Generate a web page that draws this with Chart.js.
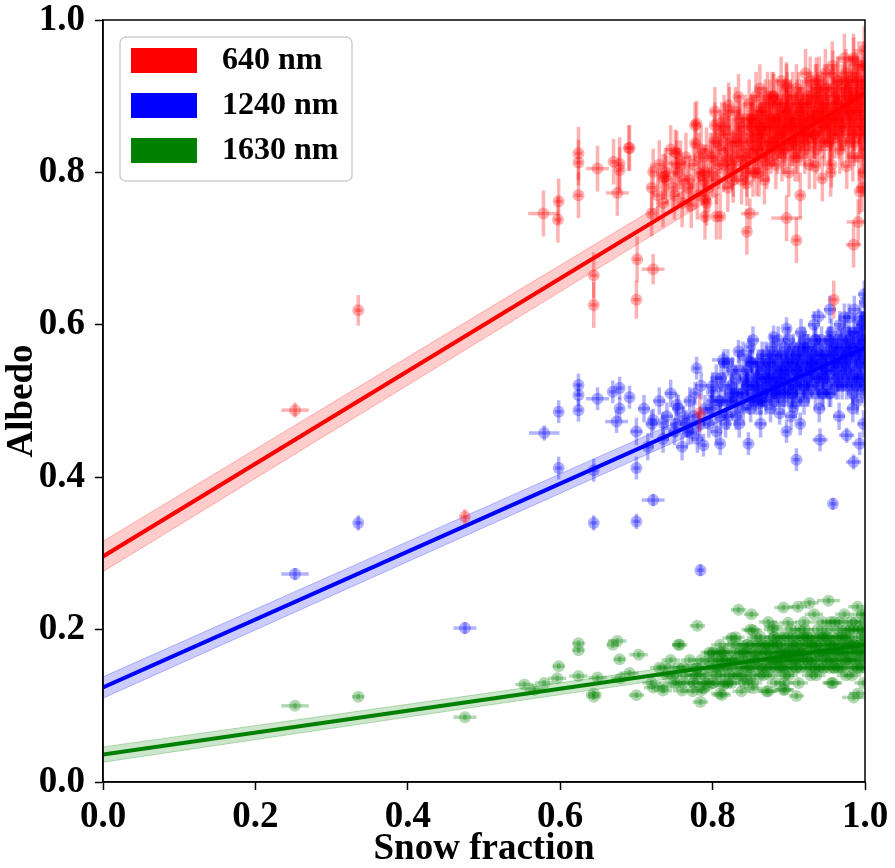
<!DOCTYPE html>
<html>
<head>
<meta charset="utf-8">
<script src="https://cdn.jsdelivr.net/npm/chart.js@4.4.1/dist/chart.umd.min.js"></script>
<style>
  html, body { margin: 0; padding: 0; background: #fff; }
  #wrap { width: 895px; height: 868px; }
</style>
</head>
<body>
<div id="wrap"><canvas id="albedoChart"></canvas></div>
<script>
// Series labels and colours
const seriesLabels = ['640 nm', '1240 nm', '1630 nm'];
const seriesColors = ['255, 0, 0', '0, 0, 255', '0, 128, 0'];

// Axis ticks
const tickValues = [0.0, 0.2, 0.4, 0.6, 0.8, 1.0];

// Regression fits and confidence bands, sampled at fitX
const fitX = [0, 0.5, 1];
const red640Fit = [0.296, 0.600, 0.904];
const red640Lo = [0.276, 0.582, 0.889];
const red640Hi = [0.316, 0.618, 0.919];
const blue1240Fit = [0.124, 0.347, 0.570];
const blue1240Lo = [0.110, 0.334, 0.558];
const blue1240Hi = [0.138, 0.360, 0.582];
const green1630Fit = [0.036, 0.108, 0.180];
const green1630Lo = [0.026, 0.100, 0.173];
const green1630Hi = [0.046, 0.116, 0.187];

// Scattered points: [snow fraction, albedo, x error, y error]
const red640Points = [
    [0.252, 0.488, 0.018, 0.010], [0.335, 0.619, 0.005, 0.020], [0.475, 0.348, 0.005, 0.010],
    [0.578, 0.746, 0.020, 0.030], [0.597, 0.738, 0.005, 0.030], [0.598, 0.762, 0.005, 0.030],
    [0.624, 0.825, 0.005, 0.035], [0.624, 0.813, 0.005, 0.030], [0.624, 0.770, 0.005, 0.030],
    [0.649, 0.805, 0.015, 0.030], [0.670, 0.814, 0.005, 0.030], [0.678, 0.811, 0.005, 0.035],
    [0.678, 0.803, 0.005, 0.030], [0.691, 0.832, 0.005, 0.030], [0.675, 0.773, 0.015, 0.030],
    [0.722, 0.801, 0.005, 0.030], [0.735, 0.794, 0.005, 0.030], [0.751, 0.826, 0.005, 0.030],
    [0.753, 0.812, 0.012, 0.030], [0.762, 0.790, 0.005, 0.030], [0.720, 0.746, 0.005, 0.030],
    [0.772, 0.757, 0.005, 0.030], [0.790, 0.764, 0.005, 0.030], [0.790, 0.742, 0.005, 0.030],
    [0.805, 0.742, 0.005, 0.030], [0.777, 0.862, 0.005, 0.030], [0.777, 0.838, 0.005, 0.030],
    [0.803, 0.862, 0.005, 0.030], [0.792, 0.829, 0.005, 0.030], [0.783, 0.799, 0.005, 0.030],
    [0.644, 0.665, 0.005, 0.030], [0.644, 0.626, 0.005, 0.030], [0.701, 0.686, 0.005, 0.030],
    [0.722, 0.673, 0.015, 0.020], [0.700, 0.633, 0.005, 0.025], [0.845, 0.722, 0.005, 0.030],
    [0.849, 0.746, 0.012, 0.020], [0.897, 0.740, 0.020, 0.030], [0.910, 0.711, 0.005, 0.030],
    [0.915, 0.770, 0.005, 0.030], [0.985, 0.705, 0.010, 0.030], [0.991, 0.735, 0.015, 0.030],
    [0.993, 0.775, 0.005, 0.030], [0.944, 0.792, 0.005, 0.030], [0.956, 0.810, 0.005, 0.030],
    [0.976, 0.808, 0.005, 0.030], [0.934, 0.808, 0.005, 0.030], [0.834, 0.899, 0.005, 0.030],
    [0.821, 0.888, 0.005, 0.030], [0.897, 0.912, 0.005, 0.030], [0.783, 0.484, 0.005, 0.025],
    [0.959, 0.633, 0.005, 0.025], [0.779, 0.864, 0.005, 0.030], [0.753, 0.825, 0.005, 0.030],
    [0.788, 0.797, 0.005, 0.030], [0.738, 0.795, 0.005, 0.030], [0.690, 0.832, 0.005, 0.030],
    [0.810, 0.742, 0.005, 0.030], [0.792, 0.760, 0.005, 0.030], [0.827, 0.790, 0.005, 0.030],
    [0.845, 0.786, 0.005, 0.030], [0.858, 0.799, 0.005, 0.030], [0.818, 0.816, 0.005, 0.030],
    [0.836, 0.829, 0.005, 0.030], [0.853, 0.869, 0.005, 0.030], [0.862, 0.860, 0.005, 0.030],
    [0.880, 0.899, 0.005, 0.030], [0.897, 0.915, 0.005, 0.030], [0.936, 0.921, 0.005, 0.030],
    [0.958, 0.930, 0.005, 0.030], [0.985, 0.947, 0.005, 0.030]
];
const red640Cluster = [
    [0.800, 0.800], [0.810, 0.830], [0.815, 0.870], [0.820, 0.850], [0.825, 0.810], [0.830, 0.880],
    [0.832, 0.840], [0.838, 0.790], [0.840, 0.860], [0.845, 0.820], [0.848, 0.890], [0.850, 0.840],
    [0.853, 0.800], [0.856, 0.870], [0.860, 0.830], [0.862, 0.910], [0.865, 0.850], [0.868, 0.790],
    [0.870, 0.880], [0.873, 0.820], [0.875, 0.860], [0.878, 0.900], [0.880, 0.840], [0.883, 0.810],
    [0.885, 0.870], [0.888, 0.850], [0.890, 0.920], [0.892, 0.830], [0.895, 0.880], [0.897, 0.860],
    [0.900, 0.800], [0.902, 0.890], [0.905, 0.840], [0.907, 0.870], [0.910, 0.910], [0.912, 0.820],
    [0.915, 0.860], [0.917, 0.890], [0.920, 0.840], [0.922, 0.930], [0.925, 0.870], [0.927, 0.810],
    [0.930, 0.900], [0.932, 0.850], [0.935, 0.880], [0.937, 0.830], [0.940, 0.920], [0.942, 0.860],
    [0.945, 0.890], [0.947, 0.840], [0.950, 0.910], [0.952, 0.870], [0.955, 0.800], [0.957, 0.940],
    [0.960, 0.850], [0.962, 0.890], [0.965, 0.920], [0.967, 0.830], [0.970, 0.880], [0.972, 0.860],
    [0.975, 0.930], [0.977, 0.900], [0.980, 0.840], [0.982, 0.880], [0.985, 0.950], [0.987, 0.860],
    [0.990, 0.910], [0.992, 0.820], [0.995, 0.890], [0.997, 0.940], [1.000, 0.870], [1.000, 0.920],
    [0.998, 0.800], [0.993, 0.850], [0.988, 0.930], [0.983, 0.900], [0.978, 0.870], [0.973, 0.950],
    [0.968, 0.900], [0.963, 0.870], [0.958, 0.910], [0.953, 0.840], [0.948, 0.930], [0.943, 0.880],
    [0.938, 0.900], [0.933, 0.870], [0.928, 0.920], [0.923, 0.850], [0.918, 0.880], [0.913, 0.900],
    [0.908, 0.850], [0.903, 0.870], [0.898, 0.900], [0.893, 0.860], [0.887, 0.890], [0.882, 0.870],
    [0.877, 0.830], [0.872, 0.900], [0.867, 0.870], [0.862, 0.860], [0.857, 0.900], [0.852, 0.860],
    [0.847, 0.850], [0.842, 0.810], [0.836, 0.860], [0.828, 0.840], [0.822, 0.880], [0.818, 0.820],
    [0.812, 0.860], [0.806, 0.840], [0.803, 0.880], [0.999, 0.960], [0.996, 0.780], [0.994, 0.900],
    [0.989, 0.880], [0.984, 0.820], [0.979, 0.920]
];
const red640Core = [
    [0.720, 0.780], [0.730, 0.810], [0.735, 0.760], [0.740, 0.790], [0.745, 0.830], [0.750, 0.770],
    [0.755, 0.800], [0.760, 0.760], [0.765, 0.820], [0.770, 0.790], [0.775, 0.810], [0.780, 0.770],
    [0.785, 0.830], [0.790, 0.800], [0.795, 0.780], [0.800, 0.820], [0.805, 0.790], [0.810, 0.850],
    [0.815, 0.810], [0.820, 0.780], [0.825, 0.840], [0.830, 0.820], [0.835, 0.870], [0.840, 0.840],
    [0.845, 0.800], [0.850, 0.870], [0.855, 0.830], [0.860, 0.880], [0.865, 0.820], [0.870, 0.850],
    [0.875, 0.890], [0.880, 0.860], [0.885, 0.830], [0.890, 0.870], [0.895, 0.840], [0.900, 0.880],
    [0.905, 0.860], [0.910, 0.830], [0.915, 0.880], [0.920, 0.860], [0.925, 0.900], [0.930, 0.840],
    [0.935, 0.870], [0.940, 0.890], [0.945, 0.850], [0.950, 0.880], [0.955, 0.860], [0.960, 0.900],
    [0.965, 0.870], [0.970, 0.840], [0.975, 0.890], [0.980, 0.910], [0.985, 0.870], [0.990, 0.890],
    [0.995, 0.850], [1.000, 0.900], [1.000, 0.940], [1.000, 0.830], [0.998, 0.880], [0.996, 0.920],
    [0.994, 0.860], [0.992, 0.940], [0.989, 0.900], [0.986, 0.840], [0.983, 0.920], [0.981, 0.880],
    [0.978, 0.850], [0.974, 0.910], [0.971, 0.880], [0.968, 0.860], [0.964, 0.920], [0.961, 0.880],
    [0.957, 0.850], [0.954, 0.900], [0.951, 0.870], [0.947, 0.910], [0.944, 0.860], [0.941, 0.880],
    [0.937, 0.910], [0.934, 0.850], [0.931, 0.880], [0.927, 0.860], [0.924, 0.890], [0.921, 0.830],
    [0.918, 0.870], [0.914, 0.850], [0.911, 0.890], [0.908, 0.820], [0.904, 0.860], [0.901, 0.840],
    [0.897, 0.880], [0.894, 0.850], [0.891, 0.820], [0.887, 0.860], [0.884, 0.890], [0.881, 0.840],
    [0.877, 0.870], [0.874, 0.840], [0.871, 0.810], [0.867, 0.860], [0.864, 0.840], [0.861, 0.800],
    [0.858, 0.850], [0.854, 0.820], [0.851, 0.860], [0.848, 0.830], [0.843, 0.870], [0.838, 0.820],
    [0.833, 0.850], [0.827, 0.800], [0.821, 0.830], [0.816, 0.860], [0.808, 0.810], [0.802, 0.840],
    [0.797, 0.820], [0.788, 0.790], [0.782, 0.820], [0.768, 0.780], [0.758, 0.810], [0.748, 0.780],
    [0.738, 0.800], [0.728, 0.770]
];
const red640Heart = [
    [0.860, 0.850], [0.865, 0.880], [0.870, 0.830], [0.875, 0.870], [0.880, 0.900], [0.885, 0.850],
    [0.890, 0.880], [0.895, 0.830], [0.900, 0.860], [0.905, 0.900], [0.910, 0.870], [0.915, 0.840],
    [0.920, 0.890], [0.925, 0.850], [0.930, 0.870], [0.935, 0.910], [0.940, 0.840], [0.945, 0.870],
    [0.950, 0.890], [0.955, 0.860], [0.960, 0.880], [0.965, 0.850], [0.970, 0.910], [0.975, 0.870],
    [0.980, 0.890], [0.985, 0.860], [0.990, 0.920], [0.995, 0.880], [1.000, 0.860], [1.000, 0.910],
    [0.997, 0.840], [0.993, 0.870], [0.988, 0.900], [0.984, 0.850], [0.979, 0.880], [0.974, 0.920],
    [0.969, 0.860], [0.964, 0.890], [0.959, 0.870], [0.954, 0.840], [0.949, 0.860], [0.944, 0.900],
    [0.939, 0.870], [0.934, 0.850], [0.929, 0.890], [0.924, 0.870], [0.919, 0.850], [0.914, 0.880],
    [0.909, 0.860], [0.904, 0.840], [0.899, 0.870], [0.894, 0.890], [0.889, 0.850], [0.884, 0.870],
    [0.879, 0.840], [0.874, 0.860], [0.869, 0.890], [0.864, 0.860], [0.858, 0.840], [0.852, 0.870]
];
const red640ClusterErr = [0.006, 0.032];

const blue1240Points = [
    [0.252, 0.273, 0.018, 0.008], [0.335, 0.340, 0.005, 0.010], [0.475, 0.202, 0.015, 0.008],
    [0.579, 0.458, 0.020, 0.010], [0.598, 0.486, 0.005, 0.015], [0.598, 0.412, 0.005, 0.015],
    [0.624, 0.521, 0.005, 0.015], [0.624, 0.508, 0.005, 0.015], [0.624, 0.488, 0.005, 0.015],
    [0.649, 0.503, 0.015, 0.015], [0.669, 0.512, 0.005, 0.015], [0.678, 0.517, 0.005, 0.015],
    [0.691, 0.505, 0.005, 0.015], [0.678, 0.490, 0.005, 0.015], [0.674, 0.473, 0.015, 0.015],
    [0.644, 0.340, 0.005, 0.010], [0.700, 0.342, 0.005, 0.010], [0.722, 0.370, 0.015, 0.008],
    [0.700, 0.412, 0.005, 0.015], [0.644, 0.409, 0.005, 0.015], [0.722, 0.475, 0.005, 0.015],
    [0.735, 0.471, 0.005, 0.015], [0.753, 0.495, 0.005, 0.015], [0.762, 0.479, 0.005, 0.015],
    [0.779, 0.543, 0.005, 0.015], [0.777, 0.510, 0.005, 0.015], [0.772, 0.458, 0.005, 0.015],
    [0.788, 0.442, 0.005, 0.015], [0.810, 0.444, 0.005, 0.015], [0.799, 0.512, 0.005, 0.015],
    [0.814, 0.554, 0.015, 0.010], [0.834, 0.565, 0.005, 0.015], [0.849, 0.571, 0.005, 0.015],
    [0.849, 0.552, 0.005, 0.015], [0.847, 0.444, 0.005, 0.015], [0.880, 0.584, 0.005, 0.015],
    [0.897, 0.595, 0.005, 0.015], [0.939, 0.611, 0.010, 0.010], [0.941, 0.449, 0.010, 0.015],
    [0.976, 0.455, 0.010, 0.010], [0.985, 0.420, 0.010, 0.010], [0.993, 0.444, 0.010, 0.015],
    [0.910, 0.423, 0.005, 0.015], [0.958, 0.365, 0.005, 0.008], [0.784, 0.278, 0.005, 0.008],
    [0.897, 0.460, 0.005, 0.015], [0.915, 0.470, 0.005, 0.015], [0.827, 0.510, 0.005, 0.015],
    [0.845, 0.528, 0.005, 0.015], [0.862, 0.497, 0.005, 0.015], [0.888, 0.484, 0.005, 0.015],
    [0.906, 0.492, 0.005, 0.015]
];
const blue1240Cluster = [
    [0.800, 0.500], [0.805, 0.530], [0.810, 0.480], [0.815, 0.520], [0.820, 0.550], [0.825, 0.500],
    [0.830, 0.530], [0.835, 0.470], [0.840, 0.510], [0.845, 0.540], [0.850, 0.490], [0.853, 0.580],
    [0.856, 0.520], [0.860, 0.550], [0.863, 0.470], [0.866, 0.510], [0.870, 0.560], [0.873, 0.530],
    [0.876, 0.490], [0.880, 0.550], [0.883, 0.510], [0.886, 0.580], [0.890, 0.530], [0.893, 0.500],
    [0.896, 0.560], [0.900, 0.540], [0.903, 0.480], [0.906, 0.570], [0.910, 0.520], [0.913, 0.550],
    [0.916, 0.590], [0.920, 0.500], [0.923, 0.540], [0.926, 0.570], [0.930, 0.520], [0.933, 0.600],
    [0.936, 0.550], [0.940, 0.490], [0.943, 0.580], [0.946, 0.530], [0.950, 0.560], [0.953, 0.510],
    [0.956, 0.590], [0.960, 0.540], [0.963, 0.570], [0.966, 0.480], [0.970, 0.550], [0.973, 0.610],
    [0.976, 0.520], [0.980, 0.580], [0.983, 0.550], [0.986, 0.620], [0.990, 0.500], [0.993, 0.570],
    [0.996, 0.600], [1.000, 0.540], [1.000, 0.630], [0.998, 0.470], [0.995, 0.520], [0.991, 0.590],
    [0.988, 0.560], [0.984, 0.490], [0.979, 0.610], [0.975, 0.570], [0.971, 0.530], [0.967, 0.600],
    [0.962, 0.520], [0.958, 0.560], [0.954, 0.620], [0.949, 0.540], [0.944, 0.510], [0.939, 0.570],
    [0.935, 0.530], [0.930, 0.560], [0.925, 0.510], [0.920, 0.580], [0.915, 0.530], [0.910, 0.560],
    [0.905, 0.510], [0.900, 0.580], [0.895, 0.520], [0.888, 0.550], [0.882, 0.520], [0.877, 0.570],
    [0.871, 0.520], [0.865, 0.540], [0.859, 0.500], [0.852, 0.550], [0.846, 0.520], [0.840, 0.560],
    [0.833, 0.510], [0.826, 0.540], [0.818, 0.500], [0.811, 0.530], [0.999, 0.640], [0.997, 0.580],
    [0.992, 0.530], [0.987, 0.590], [0.981, 0.520], [0.977, 0.560]
];
const blue1240Core = [
    [0.700, 0.460], [0.710, 0.490], [0.715, 0.440], [0.720, 0.470], [0.730, 0.500], [0.735, 0.450],
    [0.740, 0.480], [0.745, 0.510], [0.750, 0.460], [0.755, 0.490], [0.760, 0.440], [0.765, 0.470],
    [0.770, 0.500], [0.775, 0.480], [0.780, 0.450], [0.785, 0.520], [0.790, 0.490], [0.795, 0.470],
    [0.800, 0.520], [0.805, 0.460], [0.810, 0.500], [0.815, 0.550], [0.820, 0.480], [0.825, 0.520],
    [0.830, 0.500], [0.835, 0.540], [0.840, 0.490], [0.845, 0.520], [0.850, 0.550], [0.855, 0.500],
    [0.860, 0.530], [0.865, 0.560], [0.870, 0.510], [0.875, 0.540], [0.880, 0.500], [0.885, 0.530],
    [0.890, 0.560], [0.895, 0.540], [0.900, 0.510], [0.905, 0.550], [0.910, 0.530], [0.915, 0.510],
    [0.920, 0.560], [0.925, 0.530], [0.930, 0.550], [0.935, 0.510], [0.940, 0.560], [0.945, 0.540],
    [0.950, 0.520], [0.955, 0.570], [0.960, 0.550], [0.965, 0.520], [0.970, 0.580], [0.975, 0.540],
    [0.980, 0.560], [0.985, 0.530], [0.990, 0.570], [0.995, 0.550], [1.000, 0.580], [1.000, 0.510],
    [1.000, 0.610], [0.998, 0.560], [0.996, 0.530], [0.994, 0.610], [0.991, 0.550], [0.988, 0.520],
    [0.985, 0.590], [0.982, 0.570], [0.978, 0.530], [0.975, 0.590], [0.972, 0.560], [0.968, 0.540],
    [0.965, 0.580], [0.962, 0.560], [0.958, 0.530], [0.955, 0.550], [0.952, 0.580], [0.948, 0.560],
    [0.945, 0.510], [0.942, 0.550], [0.938, 0.530], [0.935, 0.580], [0.932, 0.550], [0.928, 0.540],
    [0.924, 0.570], [0.921, 0.520], [0.918, 0.550], [0.914, 0.570], [0.911, 0.540], [0.908, 0.520],
    [0.904, 0.560], [0.901, 0.530], [0.898, 0.550], [0.894, 0.510], [0.891, 0.540], [0.887, 0.520],
    [0.884, 0.560], [0.881, 0.530], [0.878, 0.510], [0.874, 0.550], [0.869, 0.530], [0.864, 0.500],
    [0.858, 0.540], [0.853, 0.520], [0.848, 0.500], [0.843, 0.530], [0.838, 0.510], [0.831, 0.480],
    [0.823, 0.510], [0.817, 0.470], [0.808, 0.500], [0.798, 0.490], [0.783, 0.470], [0.768, 0.460],
    [0.752, 0.470]
];
const blue1240Heart = [
    [0.860, 0.520], [0.865, 0.550], [0.870, 0.500], [0.875, 0.530], [0.880, 0.560], [0.885, 0.510],
    [0.890, 0.540], [0.895, 0.570], [0.900, 0.520], [0.905, 0.550], [0.910, 0.500], [0.915, 0.540],
    [0.920, 0.570], [0.925, 0.520], [0.930, 0.550], [0.935, 0.580], [0.940, 0.530], [0.945, 0.560],
    [0.950, 0.540], [0.955, 0.510], [0.960, 0.570], [0.965, 0.550], [0.970, 0.520], [0.975, 0.560],
    [0.980, 0.540], [0.985, 0.570], [0.990, 0.530], [0.995, 0.580], [1.000, 0.550], [1.000, 0.520],
    [0.997, 0.600], [0.993, 0.560], [0.988, 0.540], [0.984, 0.510], [0.979, 0.580], [0.974, 0.550],
    [0.969, 0.570], [0.964, 0.530], [0.959, 0.550], [0.954, 0.580], [0.949, 0.530], [0.944, 0.550],
    [0.939, 0.520], [0.934, 0.560], [0.929, 0.540], [0.924, 0.550], [0.919, 0.520], [0.914, 0.560],
    [0.909, 0.540], [0.904, 0.510], [0.899, 0.550], [0.894, 0.530], [0.889, 0.510], [0.884, 0.540],
    [0.879, 0.520], [0.874, 0.550], [0.869, 0.530], [0.864, 0.510], [0.858, 0.530], [0.852, 0.510]
];
const blue1240ClusterErr = [0.008, 0.018];

const green1630Points = [
    [0.252, 0.100, 0.018, 0.004], [0.335, 0.112, 0.008, 0.004], [0.475, 0.085, 0.015, 0.004],
    [0.579, 0.130, 0.012, 0.004], [0.596, 0.136, 0.012, 0.004], [0.598, 0.152, 0.008, 0.004],
    [0.624, 0.182, 0.008, 0.004], [0.624, 0.173, 0.008, 0.004], [0.624, 0.139, 0.012, 0.004],
    [0.649, 0.137, 0.012, 0.004], [0.644, 0.116, 0.010, 0.004], [0.644, 0.112, 0.010, 0.004],
    [0.669, 0.180, 0.008, 0.004], [0.675, 0.185, 0.012, 0.004], [0.678, 0.161, 0.008, 0.004],
    [0.679, 0.136, 0.012, 0.004], [0.691, 0.143, 0.012, 0.004], [0.703, 0.167, 0.012, 0.004],
    [0.700, 0.114, 0.010, 0.004], [0.722, 0.124, 0.012, 0.004], [0.735, 0.125, 0.012, 0.004],
    [0.738, 0.151, 0.012, 0.004], [0.755, 0.180, 0.008, 0.004], [0.753, 0.130, 0.012, 0.004],
    [0.762, 0.130, 0.012, 0.004], [0.774, 0.119, 0.012, 0.004], [0.788, 0.123, 0.012, 0.004],
    [0.779, 0.149, 0.012, 0.004], [0.780, 0.205, 0.010, 0.004], [0.784, 0.105, 0.010, 0.004],
    [0.810, 0.116, 0.012, 0.004], [0.814, 0.127, 0.012, 0.004], [0.801, 0.169, 0.012, 0.004],
    [0.812, 0.160, 0.012, 0.004], [0.825, 0.189, 0.012, 0.004], [0.834, 0.226, 0.010, 0.004],
    [0.851, 0.220, 0.010, 0.004], [0.853, 0.199, 0.012, 0.004], [0.838, 0.119, 0.012, 0.004],
    [0.853, 0.123, 0.012, 0.004], [0.871, 0.119, 0.012, 0.004], [0.893, 0.121, 0.012, 0.004],
    [0.910, 0.113, 0.010, 0.004], [0.893, 0.229, 0.012, 0.004], [0.912, 0.230, 0.012, 0.004],
    [0.927, 0.235, 0.012, 0.004], [0.952, 0.238, 0.015, 0.004], [0.899, 0.209, 0.012, 0.004],
    [0.880, 0.204, 0.012, 0.004], [0.958, 0.130, 0.012, 0.004], [0.985, 0.111, 0.015, 0.004],
    [0.991, 0.116, 0.012, 0.004], [0.757, 0.180, 0.010, 0.004], [0.814, 0.171, 0.012, 0.004],
    [0.775, 0.130, 0.012, 0.004], [0.812, 0.114, 0.012, 0.004], [0.845, 0.134, 0.012, 0.004],
    [0.827, 0.140, 0.012, 0.004], [0.873, 0.119, 0.012, 0.004], [0.895, 0.121, 0.012, 0.004],
    [0.553, 0.128, 0.012, 0.004], [0.566, 0.121, 0.012, 0.004]
];
const green1630Cluster = [
    [0.780, 0.140], [0.785, 0.160], [0.790, 0.130], [0.795, 0.150], [0.800, 0.170], [0.805, 0.140],
    [0.810, 0.180], [0.815, 0.150], [0.820, 0.130], [0.825, 0.160], [0.830, 0.190], [0.835, 0.140],
    [0.840, 0.170], [0.845, 0.150], [0.850, 0.200], [0.853, 0.130], [0.856, 0.170], [0.860, 0.150],
    [0.863, 0.190], [0.866, 0.140], [0.870, 0.170], [0.873, 0.210], [0.876, 0.150], [0.880, 0.180],
    [0.883, 0.130], [0.886, 0.160], [0.890, 0.190], [0.893, 0.150], [0.896, 0.170], [0.900, 0.140],
    [0.903, 0.200], [0.906, 0.160], [0.910, 0.180], [0.913, 0.130], [0.916, 0.170], [0.920, 0.210],
    [0.923, 0.150], [0.926, 0.180], [0.930, 0.160], [0.933, 0.220], [0.936, 0.140], [0.940, 0.190],
    [0.943, 0.170], [0.946, 0.150], [0.950, 0.200], [0.953, 0.180], [0.956, 0.130], [0.960, 0.210],
    [0.963, 0.160], [0.966, 0.190], [0.970, 0.150], [0.973, 0.220], [0.976, 0.170], [0.980, 0.200],
    [0.983, 0.140], [0.986, 0.180], [0.990, 0.230], [0.993, 0.160], [0.996, 0.200], [1.000, 0.170],
    [1.000, 0.220], [0.998, 0.130], [0.995, 0.190], [0.991, 0.150], [0.988, 0.210], [0.984, 0.170],
    [0.979, 0.190], [0.975, 0.140], [0.971, 0.180], [0.967, 0.210], [0.962, 0.170], [0.958, 0.190],
    [0.954, 0.150], [0.949, 0.170], [0.944, 0.210], [0.939, 0.160], [0.934, 0.180], [0.929, 0.140],
    [0.924, 0.190], [0.919, 0.160], [0.914, 0.200], [0.909, 0.150], [0.904, 0.170], [0.899, 0.190],
    [0.894, 0.130], [0.889, 0.170], [0.884, 0.150], [0.879, 0.200], [0.874, 0.160], [0.868, 0.180],
    [0.862, 0.140], [0.857, 0.190], [0.851, 0.160], [0.846, 0.180], [0.841, 0.130], [0.836, 0.170],
    [0.831, 0.150], [0.826, 0.180], [0.821, 0.160], [0.816, 0.130], [0.811, 0.170], [0.806, 0.150],
    [0.801, 0.130], [0.796, 0.170]
];
const green1630Core = [
    [0.720, 0.130], [0.730, 0.150], [0.735, 0.120], [0.740, 0.140], [0.745, 0.160], [0.750, 0.130],
    [0.755, 0.150], [0.760, 0.120], [0.765, 0.140], [0.770, 0.160], [0.775, 0.130], [0.780, 0.150],
    [0.785, 0.120], [0.790, 0.140], [0.795, 0.160], [0.800, 0.130], [0.805, 0.160], [0.810, 0.140],
    [0.815, 0.170], [0.820, 0.150], [0.825, 0.130], [0.830, 0.160], [0.835, 0.180], [0.840, 0.150],
    [0.845, 0.170], [0.850, 0.140], [0.855, 0.160], [0.860, 0.180], [0.865, 0.150], [0.870, 0.170],
    [0.875, 0.140], [0.880, 0.160], [0.885, 0.180], [0.890, 0.160], [0.895, 0.140], [0.900, 0.170],
    [0.905, 0.190], [0.910, 0.150], [0.915, 0.170], [0.920, 0.190], [0.925, 0.160], [0.930, 0.180],
    [0.935, 0.150], [0.940, 0.170], [0.945, 0.190], [0.950, 0.160], [0.955, 0.180], [0.960, 0.150],
    [0.965, 0.170], [0.970, 0.190], [0.975, 0.160], [0.980, 0.180], [0.985, 0.200], [0.990, 0.170],
    [0.995, 0.150], [1.000, 0.190], [1.000, 0.150], [1.000, 0.210], [0.998, 0.170], [0.996, 0.220],
    [0.994, 0.180], [0.991, 0.200], [0.988, 0.160], [0.985, 0.180], [0.982, 0.210], [0.978, 0.160],
    [0.975, 0.190], [0.972, 0.170], [0.968, 0.150], [0.965, 0.200], [0.962, 0.180], [0.958, 0.160],
    [0.955, 0.210], [0.952, 0.170], [0.948, 0.190], [0.945, 0.150], [0.942, 0.180], [0.938, 0.200],
    [0.935, 0.170], [0.932, 0.190], [0.928, 0.150], [0.924, 0.170], [0.921, 0.200], [0.918, 0.180],
    [0.914, 0.160], [0.911, 0.190], [0.908, 0.170], [0.904, 0.150], [0.901, 0.180], [0.897, 0.160],
    [0.894, 0.190], [0.891, 0.170], [0.887, 0.150], [0.884, 0.170], [0.881, 0.190], [0.877, 0.160],
    [0.874, 0.180], [0.869, 0.150], [0.864, 0.170], [0.859, 0.160], [0.853, 0.180], [0.848, 0.150],
    [0.842, 0.170], [0.837, 0.140], [0.829, 0.170], [0.822, 0.140], [0.813, 0.160], [0.803, 0.150],
    [0.792, 0.130], [0.778, 0.140], [0.762, 0.150], [0.748, 0.140]
];
const green1630Heart = [
    [0.840, 0.160], [0.845, 0.180], [0.850, 0.150], [0.855, 0.170], [0.860, 0.160], [0.865, 0.180],
    [0.870, 0.150], [0.875, 0.170], [0.880, 0.190], [0.885, 0.160], [0.890, 0.180], [0.895, 0.150],
    [0.900, 0.170], [0.905, 0.160], [0.910, 0.180], [0.915, 0.150], [0.920, 0.170], [0.925, 0.190],
    [0.930, 0.160], [0.935, 0.180], [0.940, 0.150], [0.945, 0.170], [0.950, 0.190], [0.955, 0.160],
    [0.960, 0.180], [0.965, 0.150], [0.970, 0.170], [0.975, 0.200], [0.980, 0.160], [0.985, 0.180],
    [0.990, 0.150], [0.995, 0.170], [1.000, 0.180], [1.000, 0.160], [0.997, 0.200], [0.993, 0.180],
    [0.988, 0.170], [0.984, 0.150], [0.979, 0.180], [0.974, 0.160], [0.969, 0.190], [0.964, 0.170],
    [0.959, 0.150], [0.954, 0.180], [0.949, 0.160], [0.944, 0.190], [0.939, 0.170], [0.934, 0.150],
    [0.929, 0.180], [0.924, 0.160], [0.919, 0.190], [0.914, 0.170], [0.909, 0.160], [0.904, 0.180],
    [0.899, 0.160], [0.894, 0.170], [0.889, 0.150], [0.884, 0.180], [0.879, 0.160], [0.874, 0.180]
];
const green1630ClusterErr = [0.012, 0.004];


const FONT = 'Liberation Serif';

function toPoints(points, clusters, clusterErr) {
    const out = points.map(p => ({ x: p[0], y: p[1], xErr: p[2], yErr: p[3] }));
    clusters.forEach(cluster => {
        cluster.forEach(p => out.push({ x: p[0], y: p[1], xErr: clusterErr[0], yErr: clusterErr[1] }));
    });
    return out;
}

function toLine(values) {
    return fitX.map((x, i) => ({ x: x, y: values[i] }));
}

function rgba(c, a) {
    return 'rgba(' + c + ', ' + a + ')';
}

// Build datasets: band (lo + hi fill), fit line, scatter with error bars
function buildSeries(idx, lo, hi, fit, pts) {
    const c = seriesColors[idx];
    return [
        {
            type: 'line', label: seriesLabels[idx] + ' lo', data: toLine(lo),
            borderColor: rgba(c, 0.25), borderWidth: 1, pointRadius: 0, fill: false, order: 3
        },
        {
            type: 'line', label: seriesLabels[idx] + ' hi', data: toLine(hi),
            borderColor: rgba(c, 0.25), borderWidth: 1, pointRadius: 0,
            fill: '-1', backgroundColor: rgba(c, 0.2), order: 3
        },
        {
            type: 'line', label: seriesLabels[idx] + ' fit', data: toLine(fit),
            borderColor: rgba(c, 1), borderWidth: 4, pointRadius: 0, fill: false, order: 2
        },
        {
            type: 'scatter', label: seriesLabels[idx], data: pts,
            backgroundColor: rgba(c, 0.3), borderWidth: 0, pointRadius: 6,
            errorBars: true, errorColor: rgba(c, 0.3), legendColor: rgba(c, 1), order: 1
        }
    ];
}

const errorBarPlugin = {
    id: 'errorBars',
    beforeDatasetDraw(chart, args) {
        const ds = chart.data.datasets[args.index];
        if (!ds.errorBars) return;
        const { ctx, chartArea, scales } = chart;
        const x = scales.x, y = scales.y;
        ctx.save();
        ctx.beginPath();
        ctx.rect(chartArea.left, chartArea.top, chartArea.width, chartArea.height);
        ctx.clip();
        ctx.strokeStyle = ds.errorColor;
        ctx.lineWidth = 3.5;
        ds.data.forEach(p => {
            const px = x.getPixelForValue(p.x);
            const py = y.getPixelForValue(p.y);
            ctx.beginPath();
            ctx.moveTo(x.getPixelForValue(p.x - p.xErr), py);
            ctx.lineTo(x.getPixelForValue(p.x + p.xErr), py);
            ctx.stroke();
            ctx.beginPath();
            ctx.moveTo(px, y.getPixelForValue(p.y - p.yErr));
            ctx.lineTo(px, y.getPixelForValue(p.y + p.yErr));
            ctx.stroke();
        });
        ctx.restore();
    }
};

// Full box frame + legend box in upper left
const framePlugin = {
    id: 'frameAndLegend',
    afterDraw(chart) {
        const { ctx, chartArea } = chart;
        ctx.save();
        ctx.strokeStyle = '#000';
        ctx.lineWidth = 1.5;
        ctx.strokeRect(chartArea.left, chartArea.top, chartArea.width, chartArea.height);

        const bx = chartArea.left + 17, by = chartArea.top + 17;
        const bw = 232, bh = 144, r = 6;
        ctx.beginPath();
        ctx.roundRect(bx, by, bw, bh, r);
        ctx.fillStyle = 'rgba(255, 255, 255, 0.8)';
        ctx.fill();
        ctx.strokeStyle = '#d0d0d0';
        ctx.lineWidth = 1.5;
        ctx.stroke();

        const scatterSets = chart.data.datasets.filter(d => d.errorBars);
        ctx.font = 'bold 32px "' + FONT + '"';
        ctx.textBaseline = 'middle';
        ctx.textAlign = 'left';
        scatterSets.forEach((d, i) => {
            const rowY = by + 11 + i * 45;
            ctx.fillStyle = d.legendColor;
            ctx.fillRect(bx + 11, rowY, 66, 25);
            ctx.fillStyle = '#000';
            ctx.fillText(d.label, bx + 102, rowY + 13);
        });
        ctx.restore();
    }
};

const datasets = [].concat(
    buildSeries(0, red640Lo, red640Hi, red640Fit,
        toPoints(red640Points, [red640Cluster, red640Core, red640Heart], red640ClusterErr)),
    buildSeries(1, blue1240Lo, blue1240Hi, blue1240Fit,
        toPoints(blue1240Points, [blue1240Cluster, blue1240Core, blue1240Heart], blue1240ClusterErr)),
    buildSeries(2, green1630Lo, green1630Hi, green1630Fit,
        toPoints(green1630Points, [green1630Cluster, green1630Core, green1630Heart], green1630ClusterErr))
);

const tickFont = { family: FONT, size: 37, weight: 'bold' };

const ctx = document.getElementById('albedoChart').getContext('2d');
const albedoChart = new Chart(ctx, {
    type: 'scatter',
    data: { datasets: datasets },
    options: {
        responsive: true,
        maintainAspectRatio: false,
        animation: false,
        layout: { padding: { left: 0, right: 30, top: 20, bottom: 0 } },
        plugins: {
            legend: { display: false },
            tooltip: { enabled: false }
        },
        scales: {
            x: {
                type: 'linear', min: 0, max: 1,
                afterBuildTicks: axis => { axis.ticks = tickValues.map(v => ({ value: v })); },
                afterFit: axis => { axis.height = 86; axis.paddingLeft = 0; axis.paddingRight = 0; },
                ticks: { font: tickFont, color: '#000', padding: 5, maxRotation: 0, callback: v => v.toFixed(1) },
                grid: { drawOnChartArea: false, color: '#000', tickLength: 8, tickWidth: 1.5 },
                border: { display: true, color: '#000', width: 1.5 },
                title: { display: true, text: 'Snow fraction', font: tickFont, color: '#000', padding: { top: 0, bottom: -4 } }
            },
            y: {
                type: 'linear', min: 0, max: 1,
                afterBuildTicks: axis => { axis.ticks = tickValues.map(v => ({ value: v })); },
                afterFit: axis => { axis.width = 103; axis.paddingTop = 0; axis.paddingBottom = 0; },
                ticks: { font: tickFont, color: '#000', padding: 10, callback: v => v.toFixed(1) },
                grid: { drawOnChartArea: false, color: '#000', tickLength: 8, tickWidth: 1.5 },
                border: { display: true, color: '#000', width: 1.5 },
                title: { display: true, text: 'Albedo', font: tickFont, color: '#000', padding: { top: 0, bottom: 0 } }
            }
        }
    },
    plugins: [errorBarPlugin, framePlugin]
});
</script>
</body>
</html>
